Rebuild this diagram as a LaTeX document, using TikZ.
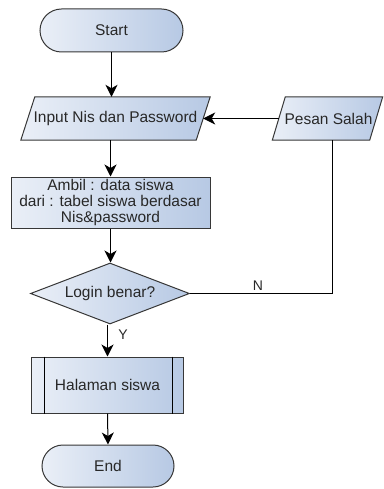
\documentclass[tikz,border=0pt]{standalone}
\usepackage{fontspec}
\setmainfont{Liberation Sans}
\usetikzlibrary{shapes.geometric,shapes.misc,arrows.meta}
\definecolor{lite}{RGB}{234,239,247}
\definecolor{dark}{RGB}{183,201,228}
\definecolor{edge}{RGB}{55,55,55}
\definecolor{txt}{RGB}{40,40,40}
\tikzset{
  shapebox/.style={draw=edge, line width=1pt, left color=lite, right color=dark, inner sep=0pt},
  fillshape/.style={draw=edge, line width=1pt, left color=lite, right color=dark},
  term/.style={shapebox, rounded rectangle},
  iobox/.style={inner sep=0pt},
  proc/.style={shapebox, rectangle},
  deci/.style={shapebox, diamond},
  lbl/.style={text=txt, font=\fontsize{15.5}{16}\selectfont, align=center, inner sep=0pt},
  arr/.style={draw=black, line width=1pt, -{Stealth[length=12pt,width=12pt,inset=3.5pt]}},
  ln/.style={draw=black, line width=1pt}
}
\begin{document}
\begin{tikzpicture}[x=1pt,y=-1pt]
\useasboundingbox (0,0) rectangle (383,489);
\node[term, minimum width=143, minimum height=43] (start) at (111.5,30.5) {};
\node[lbl] (starttxt) at (start) {Start};
% input parallelogram
\node[iobox, minimum width=189, minimum height=43] (input) at (115.5,118.5) {};
\path[fillshape] ([xshift=14pt]input.north west) -- (input.north east) -- ([xshift=-14pt]input.south east) -- (input.south west) -- cycle;
\node[lbl] (inputtxt) at (input) {Input Nis dan Password};
\coordinate (inputE) at ([xshift=-7pt]input.east);
% pesan parallelogram
\node[iobox, minimum width=110, minimum height=43] (pesan) at (327.5,118.5) {};
\path[fillshape] ([xshift=13pt]pesan.north west) -- (pesan.north east) -- ([xshift=-13pt]pesan.south east) -- (pesan.south west) -- cycle;
\node[lbl] (pesantxt) at ([xshift=1pt]pesan.center) {Pesan Salah};
\coordinate (pesanW) at ([xshift=6.5pt]pesan.west);
\node[proc, minimum width=199, minimum height=51] (ambil) at (110.5,202.5) {};
\node[lbl] (ambiltxt) at (ambil) {Ambil : data siswa\\dari : tabel siswa berdasar\\Nis\&password};
\node[deci, minimum width=159, minimum height=61] (dec) at (110,293.5) {};
\node[lbl] (dectxt) at (dec) {Login benar?};
\node[proc, minimum width=152, minimum height=56] (hal) at (107.5,385) {};
\node[lbl] (haltxt) at (hal) {Halaman siswa};
\node[term, minimum width=132, minimum height=42] (end) at (108,466) {};
\node[lbl] (endtxt) at (end) {End};
\draw[ln] ([xshift=13pt]hal.north west) -- ([xshift=13pt]hal.south west);
\draw[ln] ([xshift=-12pt]hal.north east) -- ([xshift=-12pt]hal.south east);
\coordinate (corner) at (332,293.5);
\draw[arr] (start.south) -- (start.south |- input.north);
\draw[arr] (ambil.north |- input.south) -- (ambil.north);
\draw[arr] (ambil.south) -- (ambil.south |- dec.north);
\draw[arr] (dec.south -| hal.north) -- (hal.north);
\draw[arr] (hal.south) -- (end.north);
\draw[arr] (pesanW) -- (inputE);
\draw[ln] (dec.east) -- (corner) -- (corner |- pesan.south);
\node[lbl, font=\fontsize{14}{15}\selectfont] (nlbl) at (258,286) {N};
\node[lbl, font=\fontsize{14}{15}\selectfont] (ylbl) at (123,335) {Y};
\end{tikzpicture}
\end{document}
